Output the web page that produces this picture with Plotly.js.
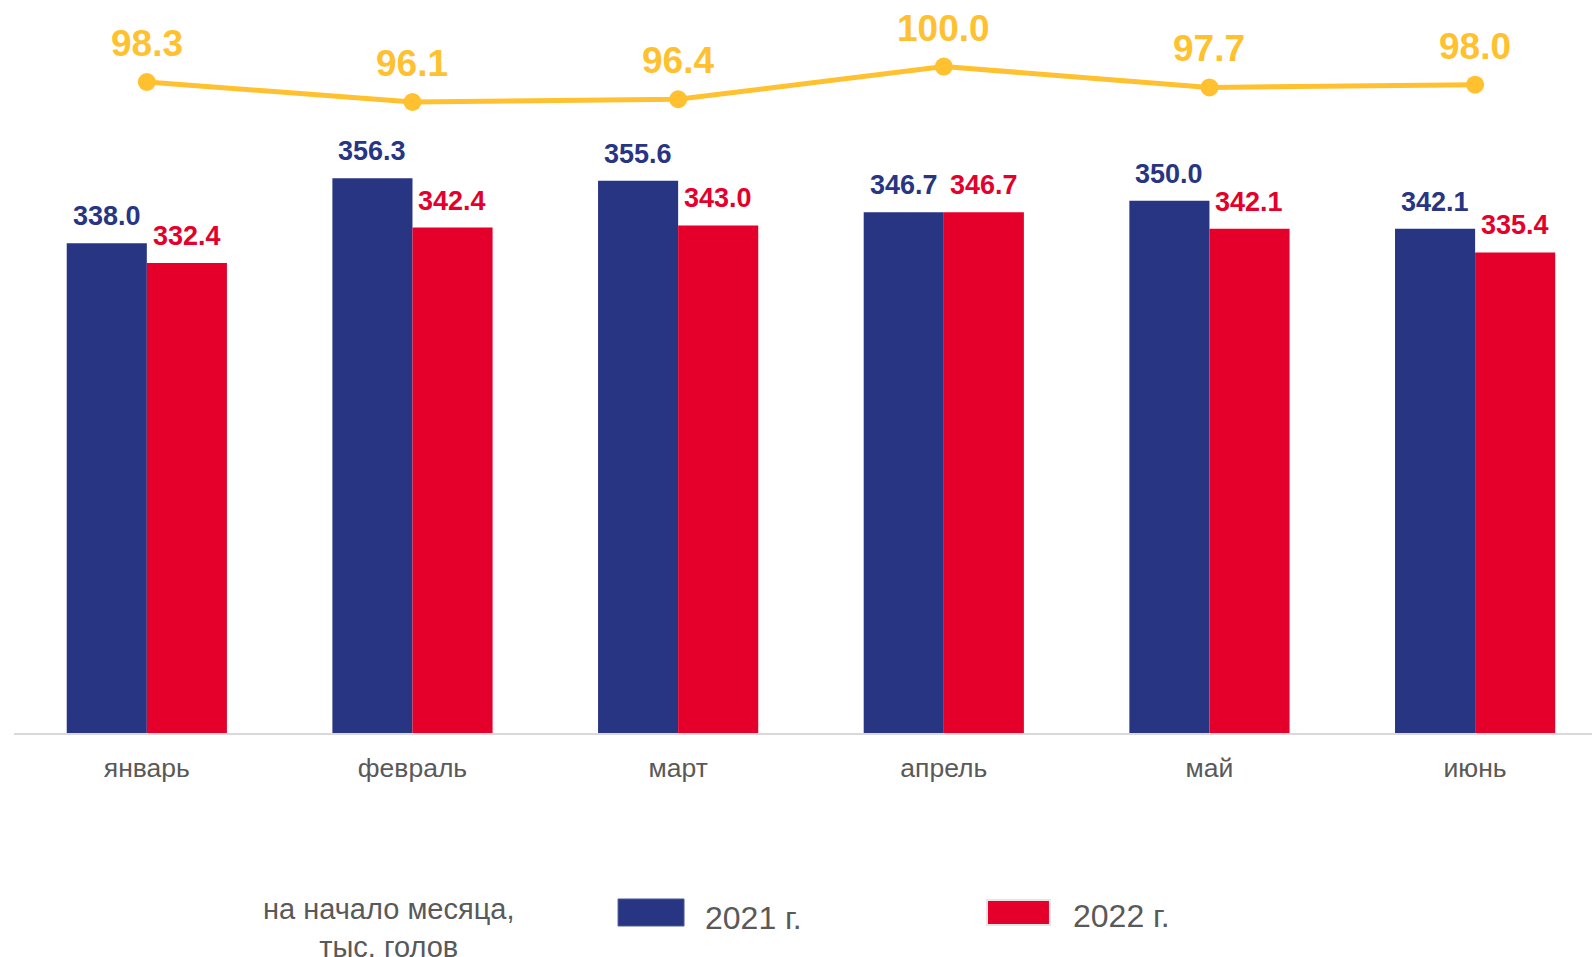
<!DOCTYPE html>
<html>
<head>
<meta charset="utf-8">
<script src="https://cdn.plot.ly/plotly-3.0.1.min.js"></script>
<style>html,body{margin:0;padding:0;background:#fff;}#chart{width:1592px;height:957px;}</style>
</head>
<body>
<div id="chart"></div>
<script>
const months = ["январь", "февраль", "март", "апрель", "май", "июнь"];
const values2021 = [338.0, 356.3, 355.6, 346.7, 350.0, 342.1];
const values2022 = [332.4, 342.4, 343.0, 346.7, 342.1, 335.4];
const ratio = [98.3, 96.1, 96.4, 100.0, 97.7, 98.0];
const seriesNames = ["2021 г.", "2022 г."];
const unitNote = "на начало месяца,<br>тыс. голов";

const BLUE = "#283582", RED = "#E4002B", YELLOW = "#FFC12F", GRAY = "#595959";
const FONT = "Liberation Sans, Arial, sans-serif";

const traces = [
  {type: "bar", name: seriesNames[0], x: months, y: values2021, marker: {color: BLUE}, hoverinfo: "y"},
  {type: "bar", name: seriesNames[1], x: months, y: values2022, marker: {color: RED}, hoverinfo: "y"},
  {type: "scatter", mode: "lines+markers", x: months, y: ratio, yaxis: "y2",
   line: {color: YELLOW, width: 5}, marker: {color: YELLOW, size: 18}, hoverinfo: "y"}
];

const annotations = [];
const BAR_HALF = 40;
months.forEach((m, i) => {
  annotations.push({x: m, y: values2021[i], xref: "x", yref: "y", text: values2021[i].toFixed(1),
    showarrow: false, xshift: -BAR_HALF, yshift: 10, yanchor: "bottom",
    font: {family: FONT, size: 27, color: BLUE, weight: "bold"}});
  annotations.push({x: m, y: values2022[i], xref: "x", yref: "y", text: values2022[i].toFixed(1),
    showarrow: false, xshift: BAR_HALF, yshift: 10, yanchor: "bottom",
    font: {family: FONT, size: 27, color: RED, weight: "bold"}});
  annotations.push({x: m, y: ratio[i], xref: "x", yref: "y2", text: ratio[i].toFixed(1),
    showarrow: false, yshift: 16, yanchor: "bottom",
    font: {family: FONT, size: 37, color: YELLOW, weight: "bold"}});
});

// legend (custom, large swatches)
annotations.push({xref: "paper", yref: "paper", x: 0.2376, y: -0.2728, text: unitNote,
  showarrow: false, xanchor: "center", yanchor: "middle", align: "center",
  font: {family: FONT, size: 29, color: GRAY}});
annotations.push({xref: "paper", yref: "paper", x: 0.4366, y: -0.2595, text: seriesNames[0],
  showarrow: false, xanchor: "left", yanchor: "middle",
  font: {family: FONT, size: 32, color: GRAY}});
annotations.push({xref: "paper", yref: "paper", x: 0.6698, y: -0.2567, text: seriesNames[1],
  showarrow: false, xanchor: "left", yanchor: "middle",
  font: {family: FONT, size: 32, color: GRAY}});

const shapes = [
  {type: "rect", xref: "paper", yref: "paper", x0: 0.3828, x1: 0.4246, y0: -0.2328, y1: -0.2707,
   fillcolor: BLUE, line: {color: "#4a5a9a", width: 1}},
  {type: "rect", xref: "paper", yref: "paper", x0: 0.6166, x1: 0.6565, y0: -0.2342, y1: -0.2693,
   fillcolor: RED, line: {color: "#e6e6e6", width: 2}}
];

const layout = {
  width: 1592, height: 957,
  margin: {l: 14, r: 0, t: 20, b: 224},
  paper_bgcolor: "#fff", plot_bgcolor: "#fff",
  barmode: "group", bargap: 0.397, bargroupgap: 0,
  showlegend: false,
  xaxis: {type: "category", range: [-0.5, 5.44], showgrid: false, zeroline: false,
    showline: true, linecolor: "#d9d9d9", linewidth: 2, ticks: "",
    ticklabelstandoff: 10,
    tickfont: {family: FONT, size: 26.5, color: GRAY}},
  yaxis: {range: [200, 400.9], visible: false, showgrid: false, zeroline: false},
  yaxis2: {range: [26.68, 105.12], overlaying: "y", visible: false, showgrid: false, zeroline: false},
  annotations: annotations,
  shapes: shapes,
  font: {family: FONT}
};

Plotly.newPlot("chart", traces, layout, {displayModeBar: false, staticPlot: true});
</script>
</body>
</html>
